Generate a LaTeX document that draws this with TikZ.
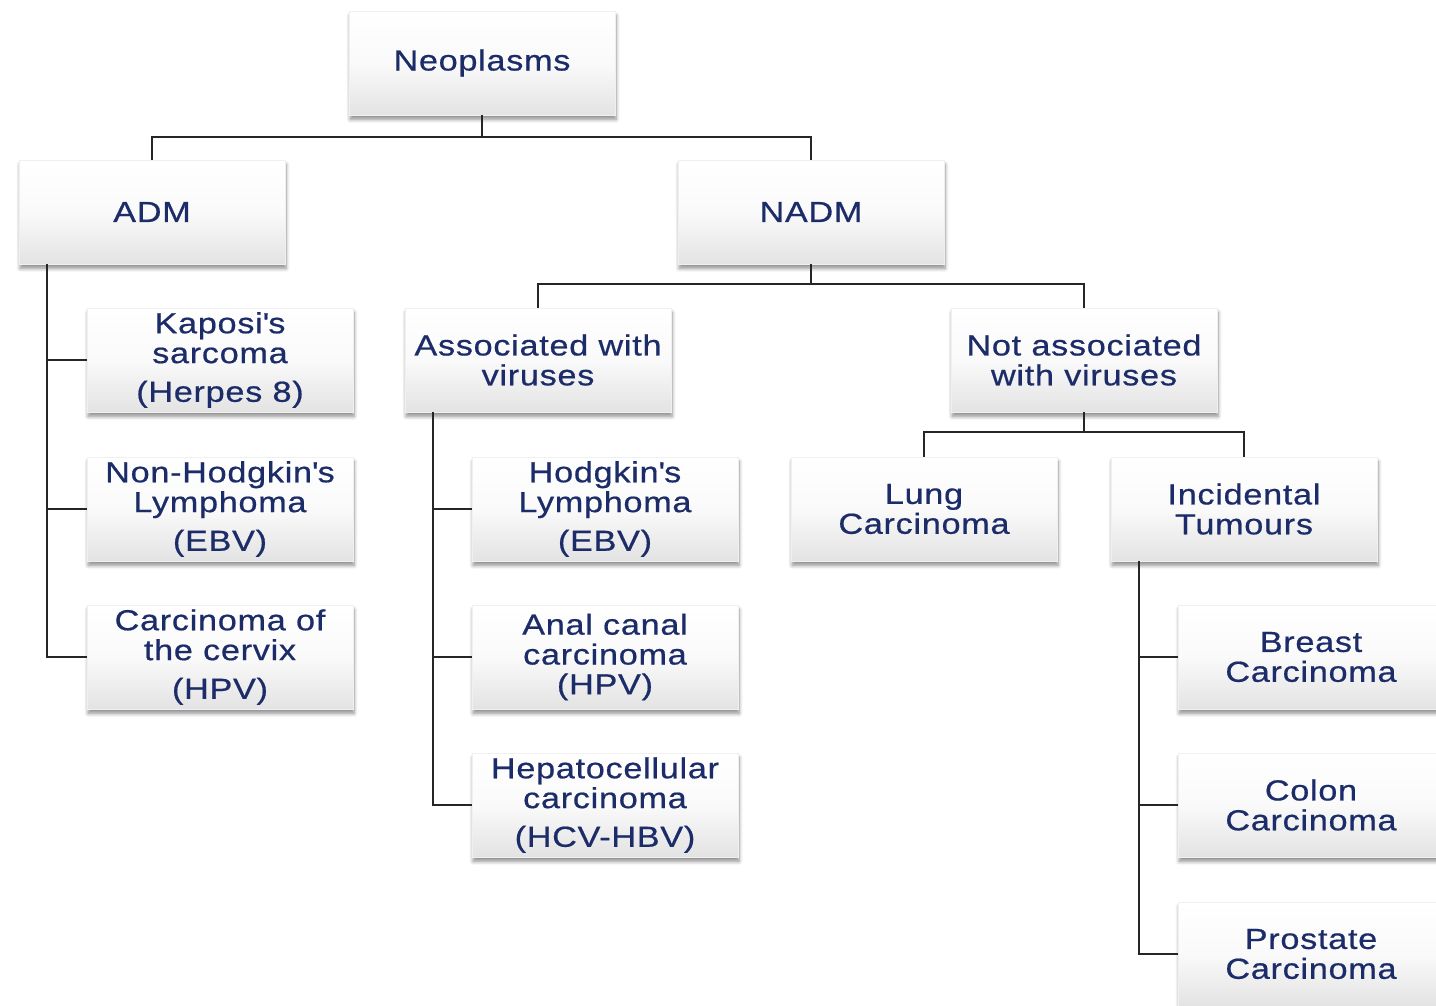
\documentclass[tikz,border=0pt]{standalone}
\usepackage{fontspec}
\setmainfont{Liberation Sans}
\newfontfamily\boxfont[FakeStretch=1.18, LetterSpace=2.5, FakeBold=0.6]{Liberation Sans}
\usetikzlibrary{shadows.blur}
\definecolor{navy}{RGB}{28,44,104}
\tikzset{
  box/.style={minimum width=5.32cm, minimum height=2.08cm, align=center,
    text=navy, font=\boxfont\fontsize{16.5}{17}\selectfont, inner sep=0pt,
    top color=white, bottom color=gray!22, middle color=white!96!gray,
    draw=gray!12, line width=0.3pt,
    blur shadow={shadow xshift=0.6pt, shadow yshift=-2.5pt, shadow blur steps=6, shadow opacity=45}},
  link/.style={line width=1.2pt, black!85}
}
\begin{document}
\begin{tikzpicture}[x=0.02cm, y=-0.02cm]
	\useasboundingbox (0,0) rectangle (1436,1005);
	% top levels
	\node[box] (neo) at (482,63) {Neoplasms};
	\node[box] (adm) at (152,212) {ADM};
	\node[box] (nadm) at (811,212) {NADM};
	% ADM
	\node[box] (kap) at (220,360) {Kaposi\textquotesingle s\\sarcoma\\[5pt](Herpes 8)};
	\node[box] (nhl) at (220,509) {Non-Hodgkin\textquotesingle s\\Lymphoma\\[5pt](EBV)};
	\node[box] (cerv) at (220,657) {Carcinoma of\\the cervix\\[5pt](HPV)};
	% NADM
	\node[box] (assoc) at (538,360) {Associated with\\viruses};
	\node[box] (notassoc) at (1084,360) {Not associated\\with viruses};
	\node[box] (hodg) at (605,509) {Hodgkin\textquotesingle s\\Lymphoma\\[5pt](EBV)};
	\node[box] (anal) at (605,657) {Anal canal\\carcinoma\\(HPV)};
	\node[box] (hepa) at (605,805) {Hepatocellular\\carcinoma\\[5pt](HCV-HBV)};
	\node[box] (lung) at (924,509) {Lung\\Carcinoma};
	\node[box] (incid) at (1244,509) {Incidental\\Tumours};
	\node[box] (breast) at (1311,657) {Breast\\Carcinoma};
	\node[box] (colon) at (1311,805) {Colon\\Carcinoma};
	\node[box] (prost) at (1311,954) {Prostate\\Carcinoma};
	% connectors
	\draw[link] (neo.south) -- ++(0,22) -| (adm.north);
	\draw[link] (neo.south) -- ++(0,22) -| (nadm.north);
	\draw[link] (nadm.south) -- ++(0,20) -| (assoc.north);
	\draw[link] (nadm.south) -- ++(0,20) -| (notassoc.north);
	\draw[link] (notassoc.south) -- ++(0,20) -| (lung.north);
	\draw[link] (notassoc.south) -- ++(0,20) -| (incid.north);
	\foreach \c in {kap,nhl,cerv}
		\draw[link] ([xshift=0.56cm]adm.south west) |- (\c.west);
	\foreach \c in {hodg,anal,hepa}
		\draw[link] ([xshift=0.56cm]assoc.south west) |- (\c.west);
	\foreach \c in {breast,colon,prost}
		\draw[link] ([xshift=0.56cm]incid.south west) |- (\c.west);
\end{tikzpicture}
\end{document}
